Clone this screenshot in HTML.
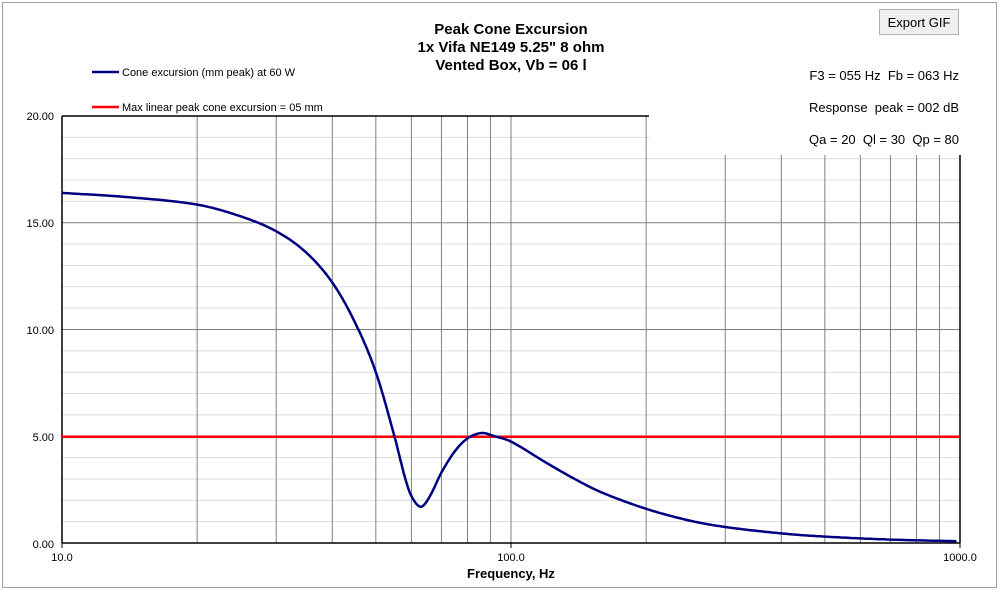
<!DOCTYPE html>
<html><head><meta charset="utf-8"><style>
body{margin:0;background:#fff;font-family:"Liberation Sans",sans-serif}
</style></head><body>
<svg id="s" width="1000" height="591" xmlns="http://www.w3.org/2000/svg" font-family="Liberation Sans, sans-serif">
<rect x="0" y="0" width="1000" height="591" fill="#fff"/>
<rect x="2.5" y="2.5" width="994" height="585" fill="none" stroke="#a0a0a0"/>
<g id="grid"></g>
<rect x="649" y="100" width="320" height="54" fill="#fff"/>
<line x1="62" y1="116" x2="649" y2="116" stroke="#000" stroke-width="1.5"/>
<line x1="960" y1="155" x2="960" y2="543" stroke="#000" stroke-width="1.5"/>
<line x1="62" y1="116" x2="62" y2="543" stroke="#000" stroke-width="1.5"/>
<line x1="62" y1="543" x2="960" y2="543" stroke="#000" stroke-width="1.5"/>
<line x1="62" y1="543" x2="62" y2="548" stroke="#000"/><line x1="511" y1="543" x2="511" y2="548" stroke="#000"/><line x1="960" y1="543" x2="960" y2="548" stroke="#000"/>
<line x1="62" y1="436.75" x2="960" y2="436.75" stroke="#ff0000" stroke-width="2.5"/>
<path id="curve" fill="none" stroke="#000080" stroke-width="2.5"/>
<g font-size="11" fill="#000" text-anchor="end">
<text x="54" y="120">20.00</text><text x="54" y="227">15.00</text><text x="54" y="334">10.00</text><text x="54" y="441">5.00</text><text x="54" y="548">0.00</text>
</g>
<g font-size="11" text-anchor="middle"><text x="62" y="561">10.0</text><text x="511" y="561">100.0</text><text x="960" y="561">1000.0</text></g>
<text x="511" y="578" font-size="13" font-weight="bold" text-anchor="middle">Frequency, Hz</text>
<g font-size="15" font-weight="bold" text-anchor="middle">
<text x="511" y="34">Peak Cone Excursion</text><text x="511" y="52">1x Vifa NE149 5.25" 8 ohm</text><text x="511" y="70">Vented Box, Vb = 06 l</text></g>
<line x1="92" y1="72" x2="119" y2="72" stroke="#000080" stroke-width="2.5"/>
<text x="122" y="76" font-size="11">Cone excursion (mm peak) at 60 W</text>
<line x1="92" y1="107" x2="119" y2="107" stroke="#ff0000" stroke-width="2.5"/>
<text x="122" y="111" font-size="11">Max linear peak cone excursion = 05 mm</text>
<g font-size="13" text-anchor="end"><text x="959" y="80">F3 = 055 Hz&#160; Fb = 063 Hz</text><text x="959" y="112">Response&#160; peak = 002 dB</text><text x="959" y="144">Qa = 20&#160; Ql = 30&#160; Qp = 80</text></g>
<rect x="879.5" y="9.5" width="79" height="25" fill="#f0f0f0" stroke="#b0b0b0"/>
<text x="919" y="27" font-size="13" text-anchor="middle">Export GIF</text>
</svg>
<script>
var X=f=>62+449*Math.log10(f/10), Y=v=>543-v*21.35;
var g=document.getElementById('grid'),h='';
for(var i=1;i<20;i++){var y=Y(i);var x2=(y<155)?649:960;h+='<line x1="62" y1="'+y+'" x2="'+x2+'" y2="'+y+'" stroke="'+(i%5?'#dcdcdc':'#808080')+'"/>';}
[20,30,40,50,60,70,80,90,100,200,300,400,500,600,700,800,900].forEach(f=>{var x=X(f);var y1=x>649?155:116;h+='<line x1="'+x+'" y1="'+y1+'" x2="'+x+'" y2="543" stroke="#808080"/>';});
g.innerHTML=h;
var P=[[10,16.4],[14,16.2],[20,15.85],[25,15.3],[30,14.6],[35,13.6],[40,12.2],[45,10.3],[50,8],[55,5],[58,3.1],[60,2.2],[63,1.7],[66,2.2],[70,3.3],[75,4.3],[80,4.9],[86,5.15],[92,5.0],[100,4.75],[120,3.75],[140,2.95],[160,2.35],[200,1.6],[250,1.05],[300,0.75],[400,0.45],[500,0.3],[700,0.16],[1000,0.08]];
var xs=P.map(p=>Math.log10(p[0])),ys=P.map(p=>p[1]),n=P.length,m=[];
for(var i=0;i<n;i++){if(i==0)m.push((ys[1]-ys[0])/(xs[1]-xs[0]));else if(i==n-1)m.push((ys[i]-ys[i-1])/(xs[i]-xs[i-1]));else m.push((ys[i+1]-ys[i-1])/(xs[i+1]-xs[i-1]));}
var d='';
for(var i=0;i<n-1;i++){var hh=xs[i+1]-xs[i];for(var t=0;t<=1;t+=0.05){var t2=t*t,t3=t2*t;var v=(2*t3-3*t2+1)*ys[i]+(t3-2*t2+t)*hh*m[i]+(-2*t3+3*t2)*ys[i+1]+(t3-t2)*hh*m[i+1];var lx=xs[i]+t*hh;d+=(d?'L':'M')+(62+449*(lx-1)).toFixed(1)+' '+Y(v).toFixed(1);}}
document.getElementById('curve').setAttribute('d',d);
</script>
</body></html>
